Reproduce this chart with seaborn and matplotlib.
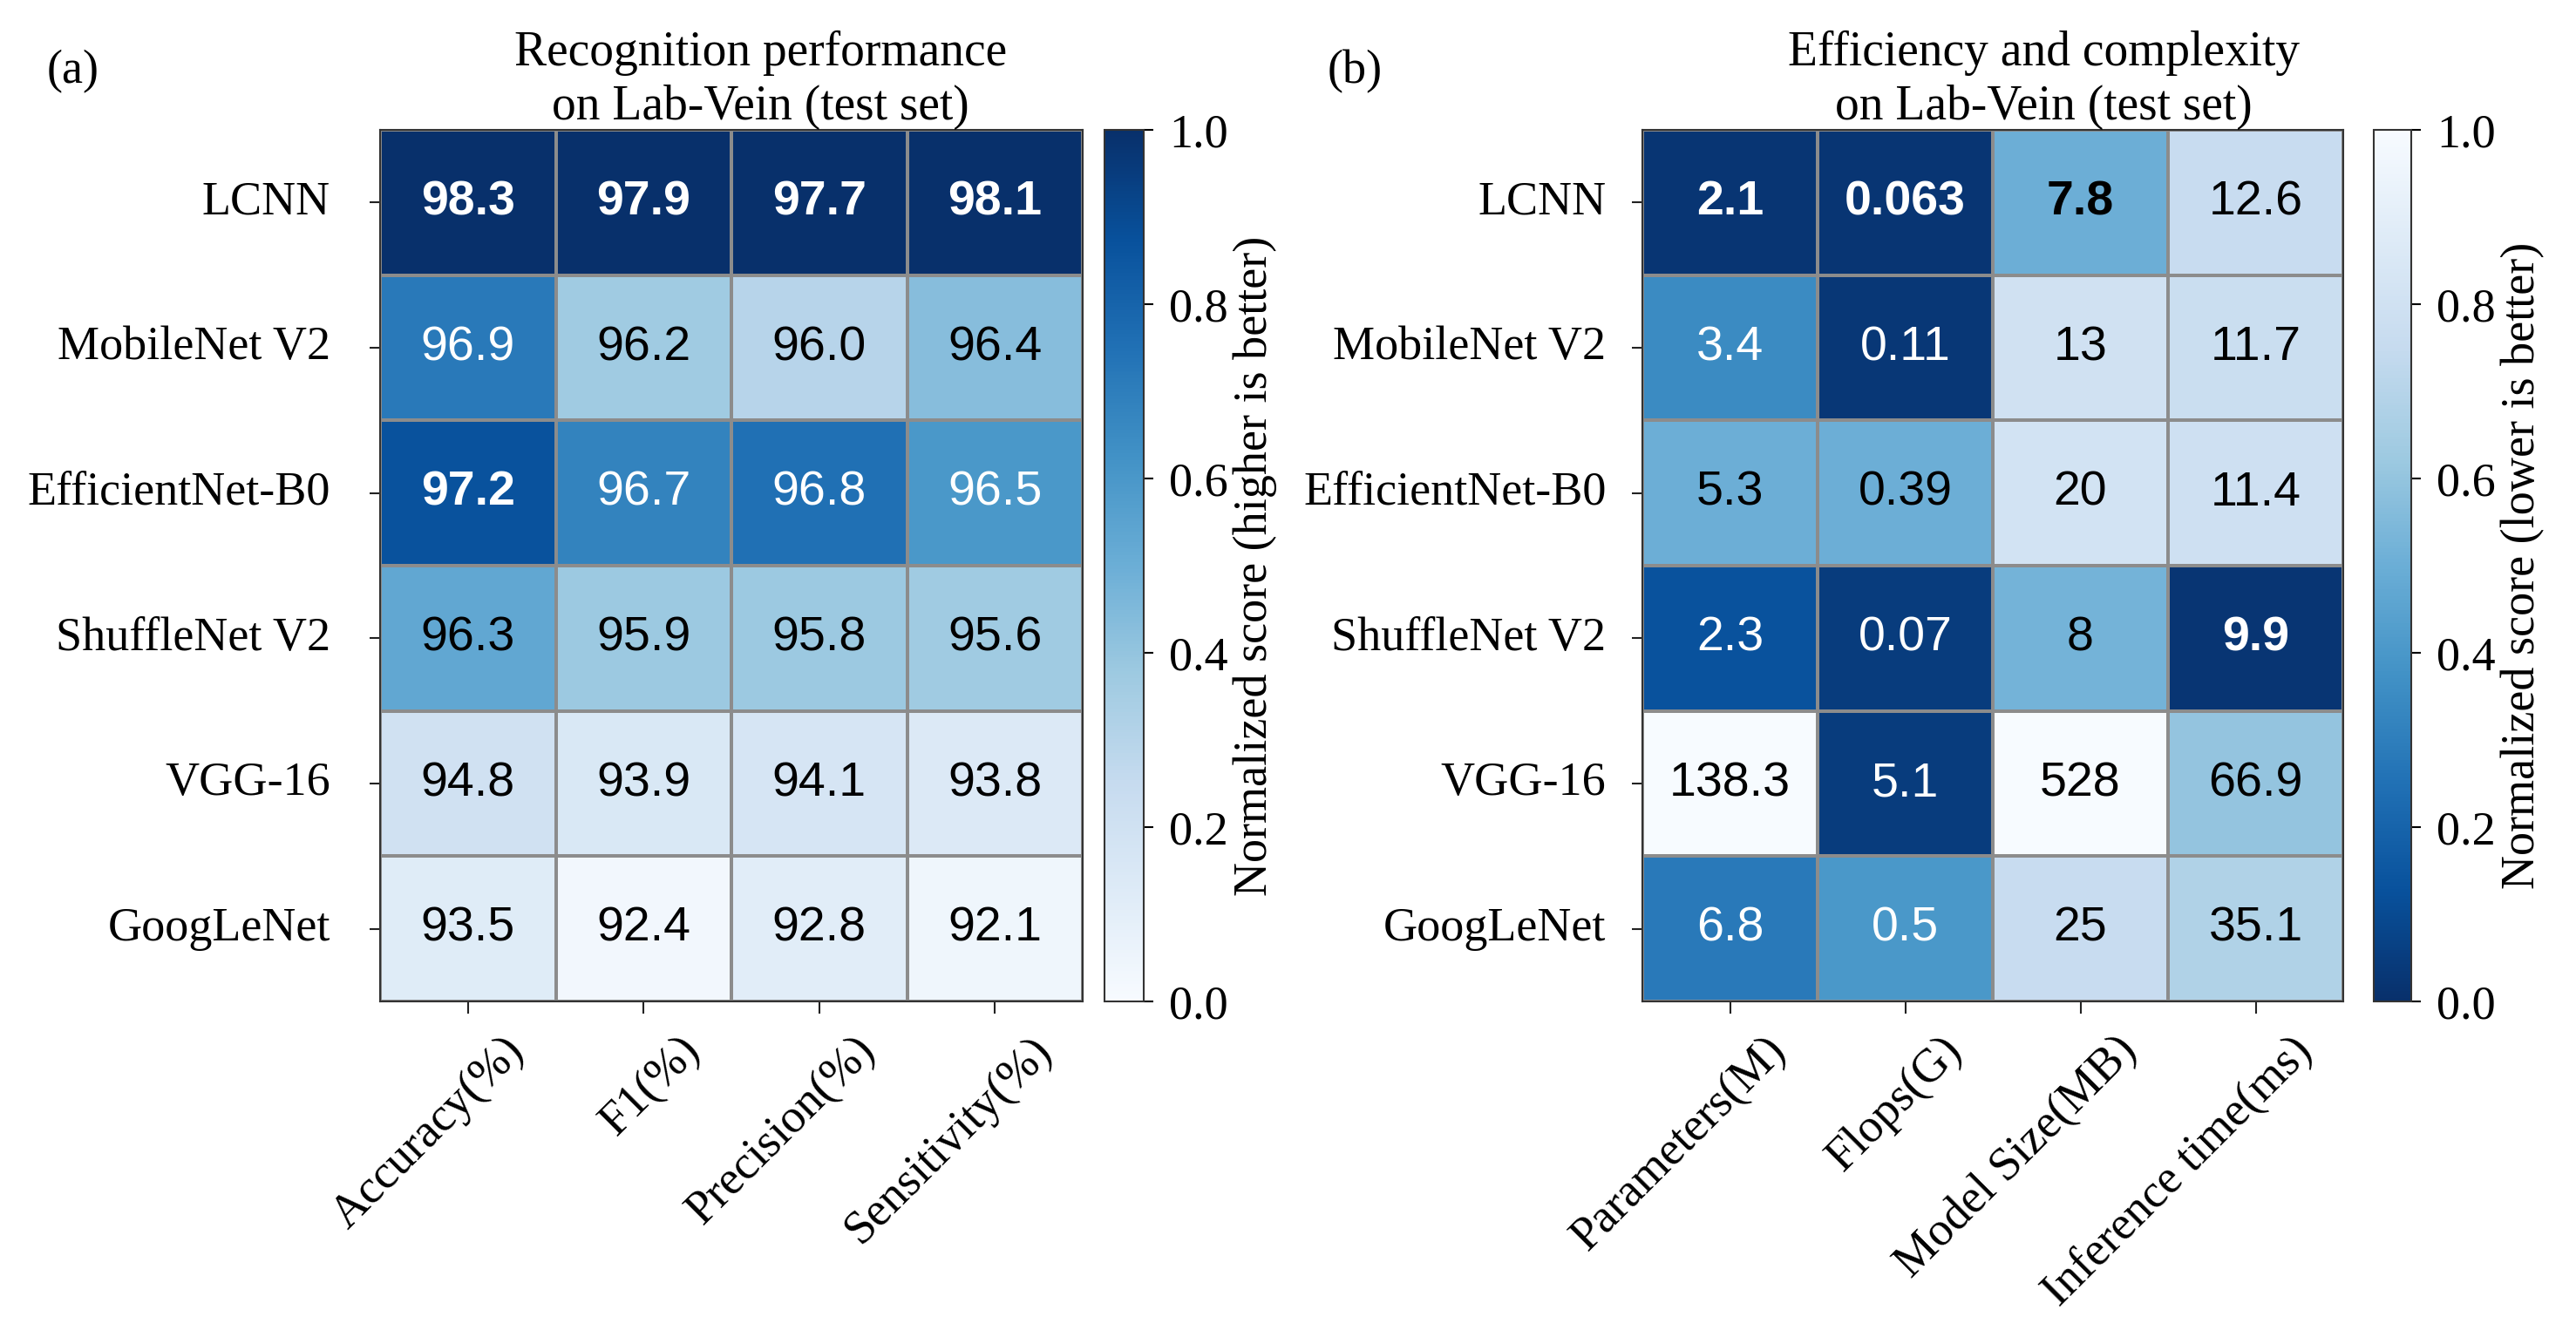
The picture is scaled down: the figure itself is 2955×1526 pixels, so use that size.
import matplotlib
matplotlib.use("Agg")
from matplotlib import pyplot as plt
from matplotlib.transforms import ScaledTranslation
import seaborn as sns
import numpy as np
import pandas as pd

# ---- data ----
models = ["LCNN", "MobileNet V2", "EfficientNet-B0", "ShuffleNet V2", "VGG-16", "GoogLeNet"]

perf_metrics = ["Accuracy(%)", "F1(%)", "Precision(%)", "Sensitivity(%)"]
accuracy = [98.3, 96.9, 97.2, 96.3, 94.8, 93.5]
f1 = [97.9, 96.2, 96.7, 95.9, 93.9, 92.4]
precision = [97.7, 96.0, 96.8, 95.8, 94.1, 92.8]
sensitivity = [98.1, 96.4, 96.5, 95.6, 93.8, 92.1]
# normalized scores (cell shading, higher is better)
accuracy_norm = [1.0, 0.72, 0.87, 0.53, 0.20, 0.12]
f1_norm = [1.0, 0.37, 0.68, 0.38, 0.15, 0.03]
precision_norm = [1.0, 0.30, 0.75, 0.38, 0.17, 0.11]
sensitivity_norm = [1.0, 0.43, 0.60, 0.37, 0.14, 0.04]
perf_bold = [("LCNN", m) for m in perf_metrics] + [("EfficientNet-B0", "Accuracy(%)")]

eff_metrics = ["Parameters(M)", "Flops(G)", "Model Size(MB)", "Inference time(ms)"]
params = [2.1, 3.4, 5.3, 2.3, 138.3, 6.8]
flops = [0.063, 0.11, 0.39, 0.07, 5.1, 0.5]
model_size = [7.8, 13, 20, 8, 528, 25]
inference = [12.6, 11.7, 11.4, 9.9, 66.9, 35.1]
# normalized scores (cell shading, lower is better)
params_norm = [0.02, 0.35, 0.50, 0.13, 1.0, 0.28]
flops_norm = [0.02, 0.03, 0.50, 0.05, 0.05, 0.40]
size_norm = [0.50, 0.80, 0.81, 0.52, 1.0, 0.76]
inference_norm = [0.76, 0.77, 0.79, 0.02, 0.60, 0.68]
eff_bold = [("LCNN", "Parameters(M)"), ("LCNN", "Flops(G)"), ("LCNN", "Model Size(MB)"),
            ("ShuffleNet V2", "Inference time(ms)")]


def as_text(cols, names):
    # keep the printed form of each value (13 stays "13", 96.0 stays "96.0")
    return pd.DataFrame({n: [str(v) for v in c] for n, c in zip(names, cols)}, index=models)


perf_text = as_text([accuracy, f1, precision, sensitivity], perf_metrics)
perf_norm = pd.DataFrame(dict(zip(perf_metrics, [accuracy_norm, f1_norm, precision_norm, sensitivity_norm])), index=models)
eff_text = as_text([params, flops, model_size, inference], eff_metrics)
eff_norm = pd.DataFrame(dict(zip(eff_metrics, [params_norm, flops_norm, size_norm, inference_norm])), index=models)

plt.rcParams['font.family'] = ['Liberation Serif', 'DejaVu Serif']
plt.rcParams['axes.linewidth'] = 1.5

W, H = 2955, 1526
fig = plt.figure(figsize=(W / 100, H / 100), dpi=100)


def box(x0, y0, x1, y1):
    return [x0 / W, 1 - y1 / H, (x1 - x0) / W, (y1 - y0) / H]


def draw_panel(ax, cax, norm, text, bold, cmap, dark_is_high, title, title_x, cbar_label, ypad):
    sns.heatmap(norm, ax=ax, cbar_ax=cax, cmap=cmap, vmin=0, vmax=1,
                annot=text, fmt="", linewidths=1.5, linecolor="#8c8c8c",
                annot_kws={"fontsize": 40, "family": "Liberation Sans"},
                cbar_kws={"ticks": [0, 0.2, 0.4, 0.6, 0.8, 1.0], "format": "%.1f"})
    # text colour / weight per cell
    for t, (r, c) in zip(ax.texts, [(r, c) for r in norm.index for c in norm.columns]):
        level = norm.loc[r, c] if dark_is_high else 1 - norm.loc[r, c]
        t.set_color("white" if level > 0.55 else "black")
        if (r, c) in bold:
            t.set_fontweight("bold")
    for s in ax.spines.values():
        s.set_visible(True)
        s.set_color("#333333")
    ax.set_xlabel("")
    ax.set_ylabel("")
    ax.tick_params(axis="x", length=10, width=1.5, color="#222222", labelbottom=False)
    ax.tick_params(axis="y", length=9, width=1.5, color="#222222", pad=ypad, labelsize=39)
    ax.set_yticklabels(norm.index, rotation=0, va="center")

    # rotated column labels, shifted down-right of their ticks
    shift = ax.get_xaxis_transform() + ScaledTranslation(0.57, -0.49, fig.dpi_scale_trans)
    for i, name in enumerate(norm.columns):
        ax.text(i + 0.5, 0, name, transform=shift, rotation=45, ha="right", va="center",
                rotation_mode="anchor", fontsize=39)

    ax.set_title(title, x=title_x, pad=6, fontsize=40, linespacing=1.25)

    cbar = ax.collections[0].colorbar
    cbar.outline.set_edgecolor("#333333")
    cbar.outline.set_linewidth(1.5)
    cbar.ax.tick_params(length=8, width=1.5, pad=13, labelsize=39)
    cbar.set_label(cbar_label, fontsize=39, labelpad=4)


ax_a = fig.add_axes(box(436, 149, 1242, 1149))
cax_a = fig.add_axes(box(1267, 149, 1312, 1149))
ax_b = fig.add_axes(box(1884, 149, 2688, 1149))
cax_b = fig.add_axes(box(2723, 149, 2766, 1149))

draw_panel(ax_a, cax_a, perf_norm, perf_text, perf_bold, "Blues", True,
           "Recognition performance\non Lab-Vein (test set)", 0.542,
           "Normalized score (higher is better)", 32)
draw_panel(ax_b, cax_b, eff_norm, eff_text, eff_bold, "Blues_r", False,
           "Efficiency and complexity\non Lab-Vein (test set)", 0.573,
           "Normalized score (lower is better)", 21)

fig.text(54 / W, 1 - 82 / H, "(a)", fontsize=39, ha="left", va="center")
fig.text(1523 / W, 1 - 82 / H, "(b)", fontsize=39, ha="left", va="center")

fig.savefig("out.png", dpi=100)
